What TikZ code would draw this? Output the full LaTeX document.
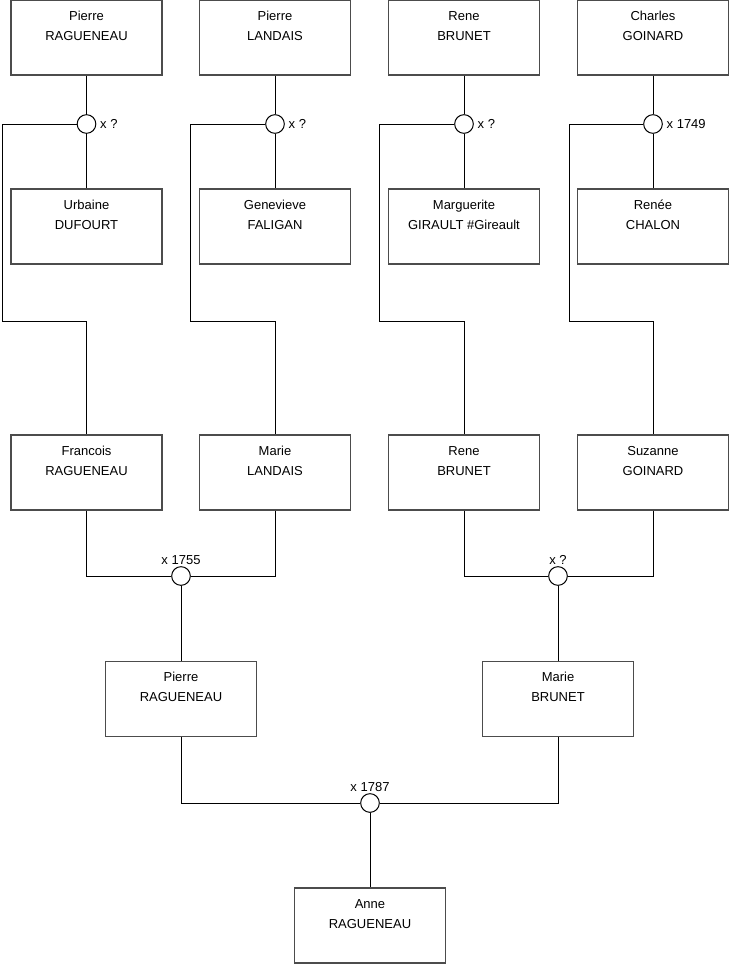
\documentclass[tikz,border=0pt]{standalone}
\usepackage{fontspec}
\setmainfont{Liberation Sans}
\usepackage{tikz}

\begin{document}
\begin{tikzpicture}[x=0.75pt,y=-0.75pt,
                   person/.style={rectangle,draw=black!70,line width=1pt,minimum width=113.25pt,minimum height=56.25pt,inner sep=0pt},
                   pname/.style={anchor=base,align=center,inner sep=0pt,yshift=-30.75pt,font=\fontsize{9.75}{15}\selectfont},
                   union/.style={circle,draw=black,fill=white,line width=0.75pt,minimum size=14pt,inner sep=0pt},
                   ulabel/.style={inner sep=1pt,font=\fontsize{9.75}{12}\selectfont},
                   every path/.style={line width=0.75pt}]
\useasboundingbox (0,0) rectangle (740,975);
% grandparents, their marriages and the children
\foreach \i/\xx/\lx/\hus/\wif/\kid/\yr in {
  1/86.5/2/{Pierre\\RAGUENEAU}/{Urbaine\\DUFOURT}/{Francois\\RAGUENEAU}/?,
  2/275/190/{Pierre\\LANDAIS}/{Genevieve\\FALIGAN}/{Marie\\LANDAIS}/?,
  3/464/379/{Rene\\BRUNET}/{Marguerite\\GIRAULT \#Gireault}/{Rene\\BRUNET}/?,
  4/653/569/{Charles\\GOINARD}/{Ren\'ee\\CHALON}/{Suzanne\\GOINARD}/1749}{
  \node[person,label={[pname]north:{\hus}}] (h\i) at (\xx,37.5) {};
  \node[union,label={[ulabel,label distance=1.5pt]east:{x \yr}}] (u\i) at (\xx,124) {};
  \node[person,label={[pname]north:{\wif}}] (w\i) at (\xx,226.5) {};
  \node[person,label={[pname]north:{\kid}}] (c\i) at (\xx,472.5) {};
  \coordinate (k\i) at (\lx,321);
  \draw (h\i) -- (u\i) -- (w\i);
  \draw (u\i) -| (k\i) -| (c\i.north);
}
% parents
\node[union,label={[ulabel]north:{x 1755}}] (v1) at (181,576) {};
\node[union,label={[ulabel]north:{x ?}}] (v2) at (558,576) {};
\node[person,label={[pname]north:{Pierre\\RAGUENEAU}}] (g1) at (181,699) {};
\node[person,label={[pname]north:{Marie\\BRUNET}}] (g2) at (558,699) {};
\draw (c1) |- (v1);
\draw (c2) |- (v1);
\draw (c3) |- (v2);
\draw (c4) |- (v2);
\draw (v1) -- (g1);
\draw (v2) -- (g2);
% last generation
\node[union,label={[ulabel]north:{x 1787}}] (v3) at (370,803) {};
\node[person,label={[pname]north:{Anne\\RAGUENEAU}}] (a) at (370,925.5) {};
\draw (g1) |- (v3);
\draw (g2) |- (v3);
\draw (v3) -- (a);
\end{tikzpicture}
\end{document}
